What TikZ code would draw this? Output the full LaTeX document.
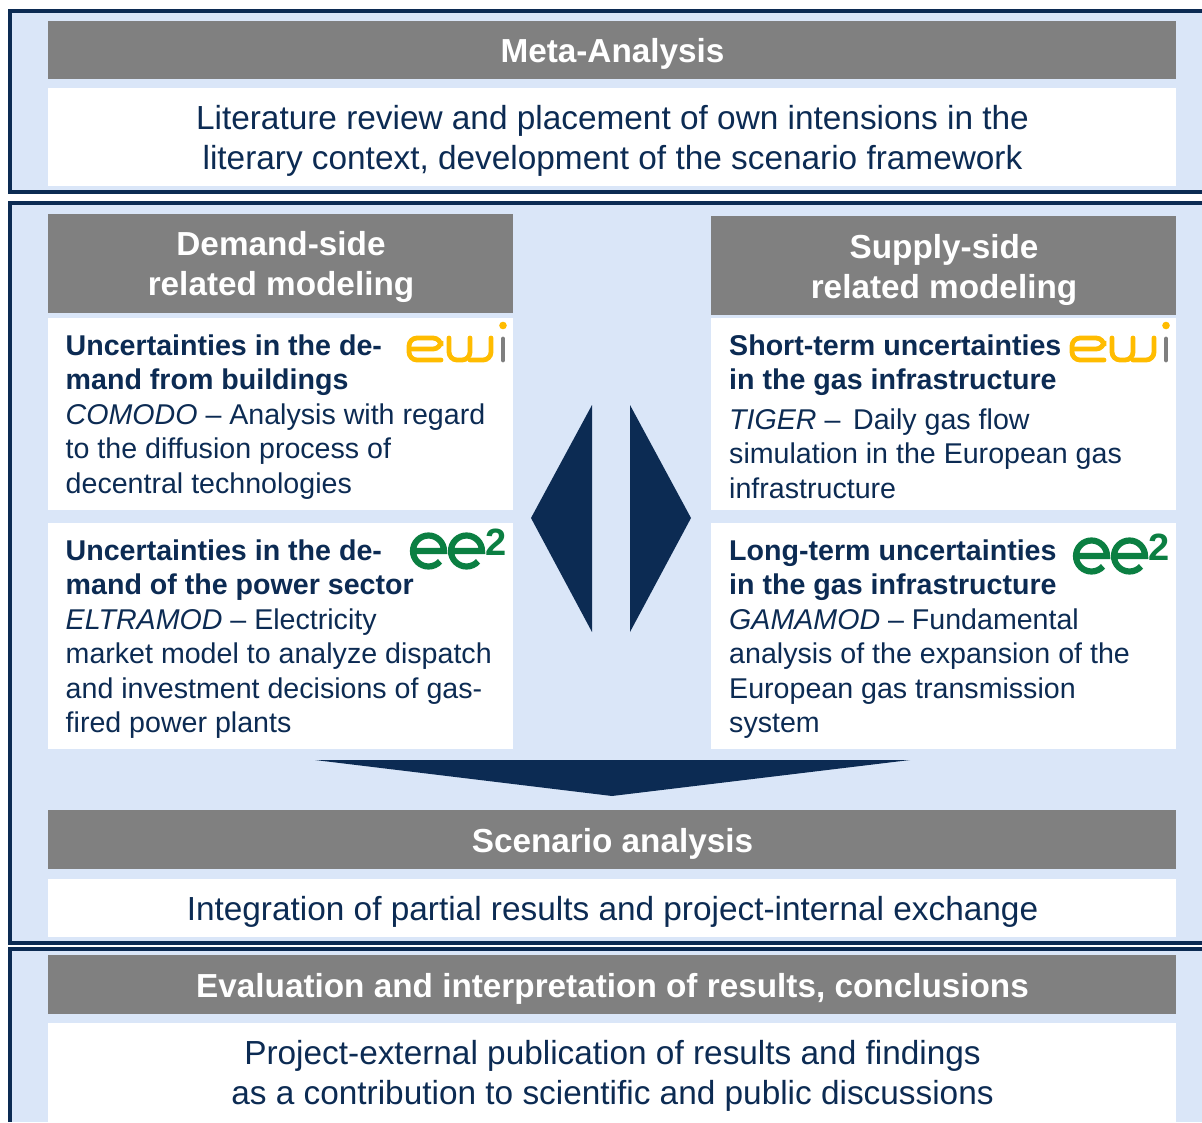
\documentclass[tikz,border=0pt]{standalone}
\usepackage{fontspec}
\setmainfont{Liberation Sans}
\definecolor{navy}{HTML}{0C2B53}
\definecolor{paleblue}{HTML}{DAE6F8}
\definecolor{headgray}{HTML}{808080}
\definecolor{ewigold}{HTML}{FFBC00}
\definecolor{ewigray}{HTML}{7F7F7F}
\definecolor{eegreen}{HTML}{0B7F42}
\tikzset{
  panel/.style={fill=paleblue,draw=none},
  frameline/.style={draw=navy,line width=3.6pt},
  headbox/.style={fill=headgray,draw=none},
  bodybox/.style={fill=white,draw=none},
  headtext/.style={text=white,font=\fontsize{33.3}{40}\selectfont\bfseries,align=center,inner sep=0pt},
  bigtext/.style={text=navy,font=\fontsize{33.37}{40}\selectfont,align=center,inner sep=0pt},
  smalltext/.style={text=navy,font=\fontsize{28.6}{34.5}\selectfont,align=left,inner sep=0pt,anchor=north west},
  arrowshape/.style={fill=navy,draw=none},
  ewistroke/.style={line width=4.8pt,line cap=round,rounded corners=8pt},
  eestroke/.style={draw=eegreen,line width=6.2pt}
}
\newcommand{\ewilogo}[2]{%
  \begin{scope}[shift={(#1,#2)}]
    \draw[ewistroke,draw=ewigold] (36,38)--(4,38)--(4,16)--(36,16)--(36,27)--(4,27);
    \draw[ewistroke,draw=ewigold] (44,16)--(44,38)--(65,38)--(65,16);
    \draw[ewistroke,draw=ewigold] (65,38)--(86,38)--(86,16);
    \draw[line width=4.8pt,line cap=round,draw=ewigray] (98,17)--(98,38);
    \fill[ewigold] (98,3.5) circle[radius=3.8pt];
  \end{scope}}
\newcommand{\eelogo}[2]{%
  \begin{scope}[shift={(#1,#2)}]
    \draw[eestroke] (3,28)--(34,28) arc[start angle=0,end angle=318,radius=15.5pt];
    \draw[eestroke] (41,28)--(72,28) arc[start angle=0,end angle=318,radius=15.5pt];
    \node[anchor=base west,inner sep=0pt,text=eegreen,font=\fontsize{38}{38}\selectfont\bfseries] at (75,32) {2};
  \end{scope}}
\begin{document}
\begin{tikzpicture}[x=1pt,y=-1pt]
\useasboundingbox (0,0) rectangle (1202,1122);
% panels
\fill[panel] (10,11) rectangle (1202,192);
\fill[panel] (10,203) rectangle (1202,943);
\fill[panel] (10,949) rectangle (1202,1122);
\draw[frameline] (1202,11)--(10,11)--(10,192)--(1202,192);
\draw[frameline] (1202,203)--(10,203)--(10,943)--(1202,943);
\draw[frameline] (1202,949)--(10,949)--(10,1122);
% boxes
\fill[headbox] (48,21) rectangle (1176,79);
\fill[bodybox] (48,88) rectangle (1176,186);
\fill[headbox] (48,214) rectangle (513,313);
\fill[headbox] (711,216) rectangle (1176,315);
\fill[bodybox] (48,318) rectangle (513,510);
\fill[bodybox] (48,523) rectangle (513,749);
\fill[bodybox] (711,318) rectangle (1176,510);
\fill[bodybox] (711,523) rectangle (1176,749);
\fill[headbox] (48,810) rectangle (1176,869);
\fill[bodybox] (48,879) rectangle (1176,937);
\fill[headbox] (48,955) rectangle (1176,1014);
\fill[bodybox] (48,1023) rectangle (1176,1122);
% arrows
\fill[arrowshape] (592,405)--(531,518)--(592,632)--cycle;
\fill[arrowshape] (630,405)--(691,518)--(630,632)--cycle;
\fill[arrowshape] (315,760)--(910,760)--(612,796)--cycle;
% headings
\node[headtext] (meta) at (612.5,54) {Meta-Analysis};
\node[bigtext] (metabody) at (612.5,141) {Literature review and placement of own intensions in the\\literary context, development of the scenario framework};
\node[headtext] (demand) at (281,267) {Demand-side\\related modeling};
\node[headtext] (supply) at (944,270) {Supply-side\\related modeling};
\node[headtext] (scen) at (612.5,844) {Scenario analysis};
\node[bigtext] (scenbody) at (612.5,912) {Integration of partial results and project-internal exchange};
\node[headtext] (eval) at (612.5,989) {Evaluation and interpretation of results, conclusions};
\node[bigtext] (evalbody) at (612.5,1076) {Project-external publication of results and findings\\as a contribution to scientific and public discussions};
% body texts
\node[smalltext] (dbuild) at (65.5,334.5) {\textbf{Uncertainties in the de-}\\\textbf{mand from buildings}\\\textit{COMODO} – Analysis with regard\\to the diffusion process of\\decentral technologies};
\node[smalltext] (dpower) at (65.5,539.5) {\textbf{Uncertainties in the de-}\\\textbf{mand of the power sector}\\\textit{ELTRAMOD} – Electricity\\market model to analyze dispatch\\and investment decisions of gas-\\fired power plants};
\node[smalltext] (sshort) at (729,334.5) {\textbf{Short-term uncertainties}\\\textbf{in the gas infrastructure}};
\node[smalltext] (sshortb) at (729,408.5) {\textit{TIGER} – \,Daily gas flow\\simulation in the European gas\\infrastructure};
\node[smalltext] (slong) at (729,539.5) {\textbf{Long-term uncertainties}\\\textbf{in the gas infrastructure}\\\textit{GAMAMOD} – Fundamental\\analysis of the expansion of the\\European gas transmission\\system};
% logos
\ewilogo{405}{322}
\ewilogo{1068}{322}
\eelogo{410}{523}
\eelogo{1073}{528}
\end{tikzpicture}
\end{document}
